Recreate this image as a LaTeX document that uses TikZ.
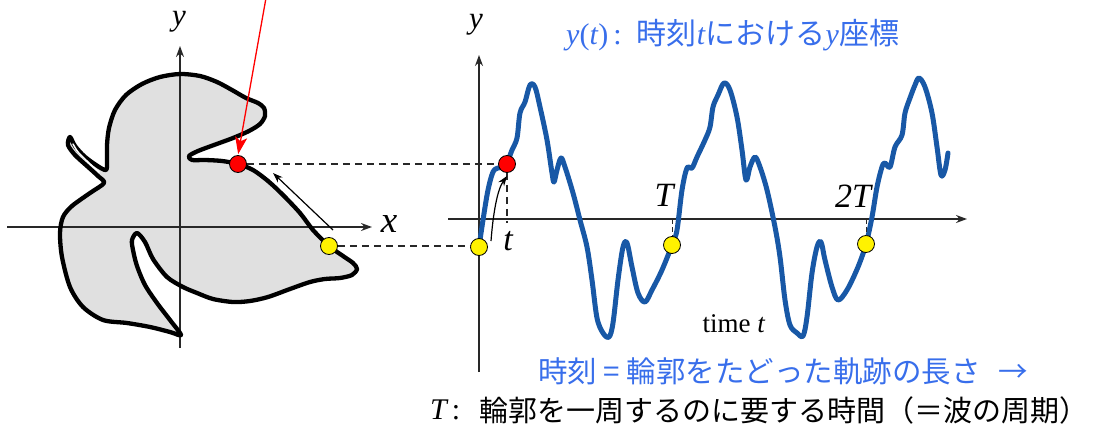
\documentclass[tikz,border=0pt]{standalone}
\usepackage{fontspec}
\setmainfont{Liberation Serif}
\newfontfamily\cjk{Noto Sans CJK JP}
\usetikzlibrary{arrows.meta}
\definecolor{wblue}{RGB}{24,88,166}
\definecolor{tblue}{RGB}{56,110,235}
\definecolor{shapegray}{RGB}{224,224,224}
\definecolor{axisgray}{RGB}{40,40,40}
\begin{document}
\begin{tikzpicture}[x=1pt,y=-1pt,
  axis/.style={axisgray,line width=1.3pt,-{Stealth[length=11pt,width=8pt]}},
  outl/.style={black,line width=4.3pt,line join=round},
  wave/.style={wblue,line width=5pt,line cap=round,line join=round},
  dot/.style={circle,draw=black,line width=0.8pt,minimum size=17pt,inner sep=0pt},
  ydot/.style={dot,fill=yellow},
  rdot/.style={dot,fill=red},
  guide/.style={axisgray,line width=1.2pt,dash pattern=on 7pt off 5pt},
  lab/.style={font=\fontsize{34}{40}\selectfont\itshape,inner sep=0pt},
  jp/.style={font=\fontsize{29.5}{35}\selectfont\cjk,inner sep=0pt,anchor=west},
  thinarrow/.style={black,line width=1.2pt,-{Stealth[length=10pt,width=7pt]}},
]
\useasboundingbox (0,0) rectangle (1095,433);

% ---------- left shape ----------
\fill[shapegray] plot[smooth cycle, tension=0.5] coordinates {
 (238,164) (253,170) (268,181) (283,195) (300,213) (313,230) (329,246) (343,256)
 (353,263) (357,269) (352,275) (340,278) (325,279) (310,282) (290,289) (268,297)
 (250,301) (233,302) (213,299) (197,293) (183,287) (167,277) (153,259) (145,242)
 (137,233) (132,240) (133,250) (137,266) (145,285) (157,303) (170,320) (181,335)
 (170,332) (150,327) (127,323) (103,320) (83,307) (70,287) (62,257) (60,233)
 (63,217) (72,206) (90,193) (104,183)
 (98,176) (87,166) (75,155) (68,145) (70,137)
 (75,146) (84,156) (96,165) (106,170)
 (107,160) (107,145) (109,128) (115,110) (126,95) (142,84) (160,77) (180,74)
 (200,76) (217,82) (232,90) (246,98) (258,103) (264,108) (265,116) (260,124)
 (249,131) (233,138) (214,145) (198,151) (189,156) (192,160) (205,160) (222,161)};

% axes (left)
\coordinate (lxs) at (7,227);
\coordinate (lxe) at (372,227);
\coordinate (lys) at (180,348);
\coordinate (lye) at (180,46);
\draw[axis] (lxs) -- (lxe);
\draw[axis] (lys) -- (lye);
\node[lab,font=\fontsize{37}{40}\selectfont\itshape] (xlab) at (389,224) {x};
\node[lab,font=\fontsize{31}{36}\selectfont\itshape] (ylab) at (179,22) {y};

\draw[outl] plot[smooth cycle, tension=0.5] coordinates {
 (238,164) (253,170) (268,181) (283,195) (300,213) (313,230) (329,246) (343,256)
 (353,263) (357,269) (352,275) (340,278) (325,279) (310,282) (290,289) (268,297)
 (250,301) (233,302) (213,299) (197,293) (183,287) (167,277) (153,259) (145,242)
 (137,233) (132,240) (133,250) (137,266) (145,285) (157,303) (170,320) (181,335)
 (170,332) (150,327) (127,323) (103,320) (83,307) (70,287) (62,257) (60,233)
 (63,217) (72,206) (90,193) (104,183)
 (98,176) (87,166) (75,155) (68,145) (70,137)
 (75,146) (84,156) (96,165) (106,170)
 (107,160) (107,145) (109,128) (115,110) (126,95) (142,84) (160,77) (180,74)
 (200,76) (217,82) (232,90) (246,98) (258,103) (264,108) (265,116) (260,124)
 (249,131) (233,138) (214,145) (198,151) (189,156) (192,160) (205,160) (222,161)};
\draw[white,line width=1.5pt,line cap=round] plot[smooth, tension=0.5] coordinates {(99,172) (88,162) (78,152) (73,144)};

% ---------- wave axes ----------
\coordinate (wxs) at (448,219);
\coordinate (wxe) at (967,219);
\coordinate (wys) at (479,372);
\coordinate (wye) at (479,55);
\draw[axis] (wxs) -- (wxe);
\draw[axis] (wys) -- (wye);
\node[lab,font=\fontsize{31}{36}\selectfont\itshape] (wylab) at (476,25) {y};

% wave
\draw[wave] plot[smooth, tension=0.55] coordinates {
 (479,247) (483,220) (488,190) (493,172) (498,168) (503,167) (507,163) (512,150)
 (517,138) (520,113) (525,102) (530,85) (535,87) (540,107) (547,140) (552,173)
 (554,182) (557,170) (561,158) (565,167) (573,193) (580,220) (587,247) (592,280)
 (597,318) (603,333) (609,337) (613,323) (618,280) (623,247) (627,243) (632,267)
 (638,293) (645,302) (652,290) (662,270) (672,245) (677,230) (682,190) (687,168)
 (692,168) (697,157) (705,140) (710,127) (713,107) (718,95) (724,83) (730,90)
 (737,117) (742,150) (746,180) (750,167) (755,157) (760,167) (767,190) (775,227)
 (780,257) (785,300) (790,325) (797,333) (803,336) (807,317) (812,273) (817,247)
 (821,242) (825,260) (832,287) (838,300) (847,290) (858,267) (866,244) (872,217)
 (877,187) (882,167) (885,163) (890,167) (895,147) (902,135) (905,113) (910,98)
 (915,85) (919,78) (925,87) (932,113) (937,147) (941,175) (945,170) (948,153)};

% dots
\node[rdot] (rl) at (238,164) {};
\node[ydot] (yl) at (329,246) {};
\node[rdot] (rw) at (507,164) {};
\node[ydot] (y0) at (479,247) {};
\node[ydot] (y1) at (672,245) {};
\node[ydot] (y2) at (866,244) {};

% guides
\draw[guide] (rl.east) -- (rw.west);
\draw[guide] (yl.east) -- (yl.east -| y0.west);
\coordinate (tt) at (507,223);
\draw[guide] (rw.south) -- (tt);
\coordinate (tT) at (672,219);
\coordinate (t2T) at (866,219);
\draw[axisgray,line width=1pt,dash pattern=on 5pt off 3pt] (tT) -- (y1.north);
\draw[axisgray,line width=1pt,dash pattern=on 5pt off 3pt] (t2T) -- (y2.north);

% arrows
\coordinate (rtop) at (266,-2);
\draw[red,line width=1.3pt,-{Stealth[length=17pt,width=12pt,inset=4pt]},shorten >=1pt] (rtop) -- (rl.north);
\coordinate (a1s) at (333,230);
\coordinate (a1e) at (273,173);
\draw[thinarrow] (a1s) -- (a1e);
\coordinate (a2s) at (491,241);
\coordinate (a2e) at (507,176);
\draw[thinarrow] (a2s) .. controls (493,215) and (497,190) .. (a2e);

% labels
\node[lab] (tlab) at (508,241) {t};
\node[lab] (Tlab) at (664,195) {T};
\node[lab] (T2lab) at (853,196) {2T};
\node[inner sep=0pt,font=\fontsize{27}{32}\selectfont] (time) at (734,324) {time \textit{t}};

\node[anchor=west,inner sep=0pt,text=tblue,font=\fontsize{30}{36}\selectfont] (title) at (566,35)
 {\textit{y}(\textit{t})\,:\ \ {\cjk 時刻}\textit{t}{\cjk における}\textit{y}{\cjk 座標}};
\node[jp,text=tblue] (l1) at (538,371) {時刻 = 輪郭をたどった軌跡の長さ\hspace{18pt}→};
\node[lab,anchor=west,font=\fontsize{30}{36}\selectfont\itshape] (tl) at (430,410) {T\upshape\,:};
\node[jp,font=\fontsize{29}{34}\selectfont\cjk] (l2) at (479,410) {輪郭を一周するのに要する時間（＝波の周期）};
\end{tikzpicture}
\end{document}
